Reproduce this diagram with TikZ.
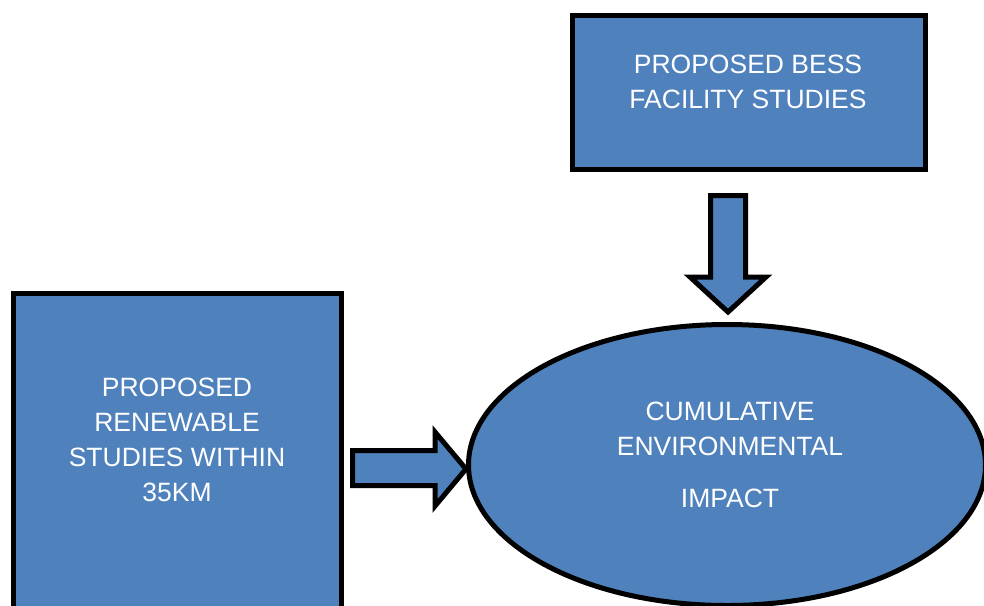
\documentclass[tikz,border=0pt]{standalone}
\usepackage{fontspec}
\setmainfont{Liberation Sans}
\usetikzlibrary{shapes.geometric}
\definecolor{boxblue}{HTML}{4F81BD}
\tikzset{
  blk/.style={draw=black, line width=5pt, fill=boxblue, inner sep=0pt, outer sep=0pt},
  lbl/.style={text=white, align=center, font=\fontsize{26.5pt}{35pt}\selectfont, inner sep=0pt},
  barrow/.style={draw=black, line width=5pt, fill=boxblue, line join=miter}
}
\begin{document}
\begin{tikzpicture}[x=1pt, y=-1pt]
\useasboundingbox (0,0) rectangle (984,605);
\clip (0,0) rectangle (984,605);
% top box
\node[blk, rectangle, minimum width=353pt, minimum height=154pt] (bess) at (749,92.5) {};
\node[lbl] (bessT) at (748,82) {PROPOSED BESS\\FACILITY STUDIES};
% left box
\node[blk, rectangle, minimum width=328pt, minimum height=340pt] (ren) at (177.5,463.5) {};
\node[lbl] (renT) at (177,440) {PROPOSED\\RENEWABLE\\STUDIES WITHIN\\35KM};
% ellipse
\node[blk, ellipse, minimum width=517pt, minimum height=281pt] (cei) at (727,465) {};
\node[lbl] (ceiT1) at (730,429) {CUMULATIVE\\ENVIRONMENTAL};
\node[lbl] (ceiT2) at (730,498) {IMPACT};
% down block arrow
\coordinate (dtip) at (728,312);
\draw[barrow] (710.5,195.5) -- (745.5,195.5) -- (745.5,277) -- (766,277) -- (dtip) -- (690,277) -- (710.5,277) -- cycle;
% right block arrow
\coordinate (rtip) at (466,469);
\draw[barrow] (352.5,450.5) -- (435,450.5) -- (435,432) -- (rtip) -- (435,506) -- (435,485.5) -- (352.5,485.5) -- cycle;
\end{tikzpicture}
\end{document}
